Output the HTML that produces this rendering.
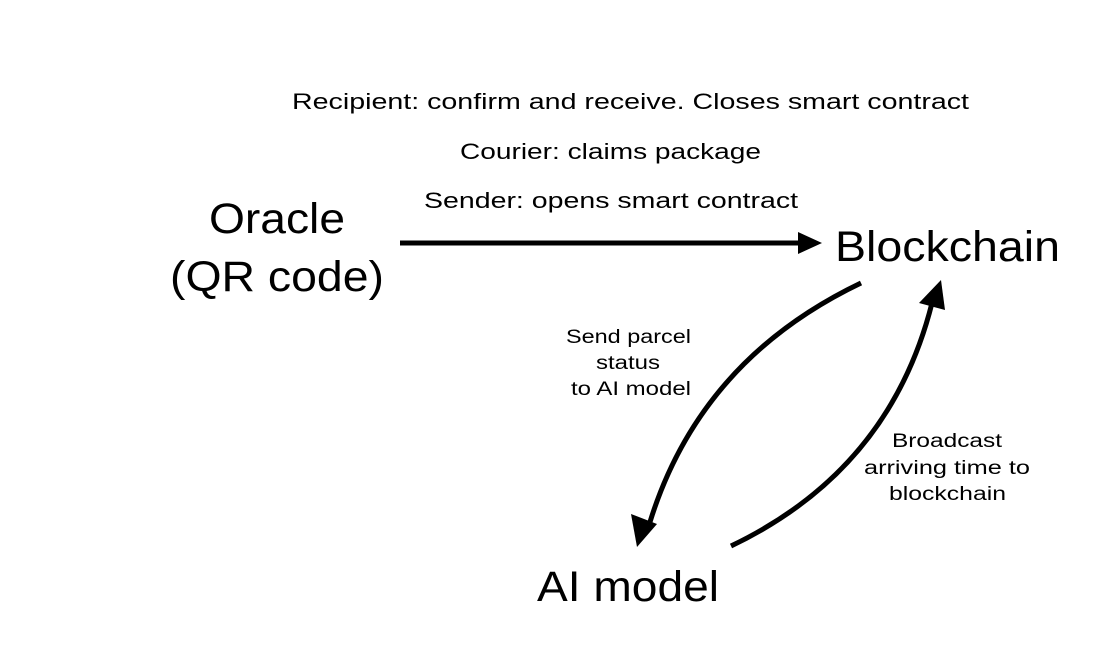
<!DOCTYPE html>
<html><head><style>
body{margin:0;background:#fff;}
svg{display:block}
text{font-family:"Liberation Sans",sans-serif;fill:#000}
</style></head><body>
<svg width="1094" height="664" viewBox="0 0 1094 664">
<rect width="1094" height="664" fill="#fff"/>
<text x="292" y="109" font-size="22" textLength="677" lengthAdjust="spacingAndGlyphs">Recipient: confirm and receive. Closes smart contract</text>
<text x="460" y="159" font-size="22" textLength="301" lengthAdjust="spacingAndGlyphs">Courier: claims package</text>
<text x="424" y="208" font-size="22" textLength="374" lengthAdjust="spacingAndGlyphs">Sender: opens smart contract</text>
<text x="209" y="233" font-size="43" textLength="136" lengthAdjust="spacingAndGlyphs">Oracle</text>
<text x="170" y="291" font-size="43" textLength="214" lengthAdjust="spacingAndGlyphs">(QR code)</text>
<text x="835" y="261" font-size="43" textLength="225" lengthAdjust="spacingAndGlyphs">Blockchain</text>
<text x="537" y="601" font-size="43" textLength="182" lengthAdjust="spacingAndGlyphs">AI model</text>
<text x="566" y="343" font-size="19" textLength="125" lengthAdjust="spacingAndGlyphs">Send parcel</text>
<text x="596" y="369" font-size="19" textLength="64" lengthAdjust="spacingAndGlyphs">status</text>
<text x="571" y="395" font-size="19" textLength="120" lengthAdjust="spacingAndGlyphs">to AI model</text>
<text x="892" y="447" font-size="19" textLength="110" lengthAdjust="spacingAndGlyphs">Broadcast</text>
<text x="864" y="474" font-size="19" textLength="166" lengthAdjust="spacingAndGlyphs">arriving time to</text>
<text x="889" y="500" font-size="19" textLength="117" lengthAdjust="spacingAndGlyphs">blockchain</text>
<line x1="400" y1="243" x2="800" y2="243" stroke="#000" stroke-width="5"/>
<polygon points="822,243 798,232 798,254" fill="#000"/>
<path d="M861,283 Q700,360 650,522" fill="none" stroke="#000" stroke-width="5"/>
<polygon points="637,547 631,514 657,524" fill="#000"/>
<path d="M731,546 Q890,470 932,303" fill="none" stroke="#000" stroke-width="5"/>
<polygon points="941,280 919,303 945,310" fill="#000"/>
</svg>
</body></html>
